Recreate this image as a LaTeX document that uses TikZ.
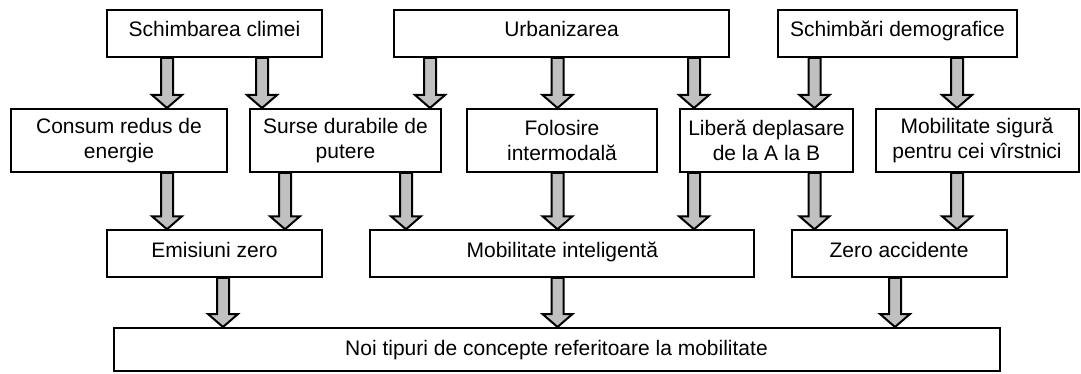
\documentclass[tikz,border=0pt]{standalone}
\usepackage{fontspec}
\setmainfont{Liberation Sans}
\usepackage{xcolor}
\usepackage{tikz}
\usetikzlibrary{calc}
\definecolor{arrowgray}{RGB}{192,192,192}

\begin{document}
\begin{tikzpicture}[
    x=1pt, y=-1pt,
    box/.style={rectangle, draw, line width=2pt, inner sep=0pt, align=center, font=\fontsize{21}{25}\selectfont},
    oneline/.style={text height=15pt, text depth=8pt},
    barrow/.style={draw, line width=2pt, fill=arrowgray, line join=miter, to path={
        ($(\tikztostart)+(-6pt,0pt)$) -- ($(\tikztotarget)+(-6pt,13pt)$) -- ($(\tikztotarget)+(-15pt,13pt)$)
        -- (\tikztotarget) -- ($(\tikztotarget)+(15pt,13pt)$) -- ($(\tikztotarget)+(6pt,13pt)$)
        -- ($(\tikztostart)+(6pt,0pt)$) -- cycle}}
]
    \useasboundingbox (0,0) rectangle (1081,374);

    % Causes
    \node[box, oneline, minimum width=215, minimum height=47] (clima) at (214.5,33.5) {Schimbarea climei};
    \node[box, oneline, minimum width=335, minimum height=47] (urban) at (561.5,33.5) {Urbanizarea};
    \node[box, oneline, minimum width=239, minimum height=47] (demo) at (897.5,33.5) {Schimbări demografice};

    % Effects
    \node[box, minimum width=216, minimum height=63] (consum) at (119,140.5) {Consum redus de\\energie};
    \node[box, minimum width=191, minimum height=63] (surse) at (345.5,140.5) {Surse durabile de\\putere};
    \node[box, minimum width=190, minimum height=63] (folos) at (562,140.5) {Folosire\\intermodală};
    \node[box, minimum width=173, minimum height=63] (libera) at (766.5,140.5) {Liberă deplasare\\de la A la B};
    \node[box, minimum width=203, minimum height=63] (sigura) at (977,140.5) {Mobilitate sigură\\pentru cei vîrstnici};

    % Goals
    \node[box, oneline, minimum width=215, minimum height=46.5] (emis) at (214.5,253.5) {Emisiuni zero};
    \node[box, oneline, minimum width=384, minimum height=46.5] (intel) at (562.3,253.5) {Mobilitate inteligentă};
    \node[box, oneline, minimum width=215, minimum height=46.5] (zeroacc) at (899,253.5) {Zero accidente};

    % Result
    \node[box, text height=15pt, text depth=4pt, minimum width=886, minimum height=43] (noi) at (556.5,349.5) {Noi tipuri de concepte referitoare la mobilitate};

    % Arrow columns
    \coordinate (p1) at (167,0);
    \coordinate (p2) at (262,0);
    \coordinate (p3) at (430,0);
    \coordinate (p4) at (557.5,0);
    \coordinate (p5) at (694,0);
    \coordinate (p6) at (814.5,0);
    \coordinate (p7) at (957,0);
    \coordinate (p8) at (285,0);
    \coordinate (p9) at (406,0);
    \coordinate (p10) at (223,0);
    \coordinate (p11) at (895,0);

    % Arrows
    \draw[barrow] (clima.south -| p1) to (consum.north -| p1);
    \draw[barrow] (clima.south -| p2) to (surse.north -| p2);
    \draw[barrow] (urban.south -| p3) to (surse.north -| p3);
    \draw[barrow] (urban.south -| p4) to (folos.north -| p4);
    \draw[barrow] (urban.south -| p5) to (libera.north -| p5);
    \draw[barrow] (demo.south -| p6) to (libera.north -| p6);
    \draw[barrow] (demo.south -| p7) to (sigura.north -| p7);

    \draw[barrow] (consum.south -| p1) to (emis.north -| p1);
    \draw[barrow] (surse.south -| p8) to (emis.north -| p8);
    \draw[barrow] (surse.south -| p9) to (intel.north -| p9);
    \draw[barrow] (folos.south -| p4) to (intel.north -| p4);
    \draw[barrow] (libera.south -| p5) to (intel.north -| p5);
    \draw[barrow] (libera.south -| p6) to (zeroacc.north -| p6);
    \draw[barrow] (sigura.south -| p7) to (zeroacc.north -| p7);

    \draw[barrow] (emis.south -| p10) to (noi.north -| p10);
    \draw[barrow] (intel.south -| p4) to (noi.north -| p4);
    \draw[barrow] (zeroacc.south -| p11) to (noi.north -| p11);
\end{tikzpicture}
\end{document}
